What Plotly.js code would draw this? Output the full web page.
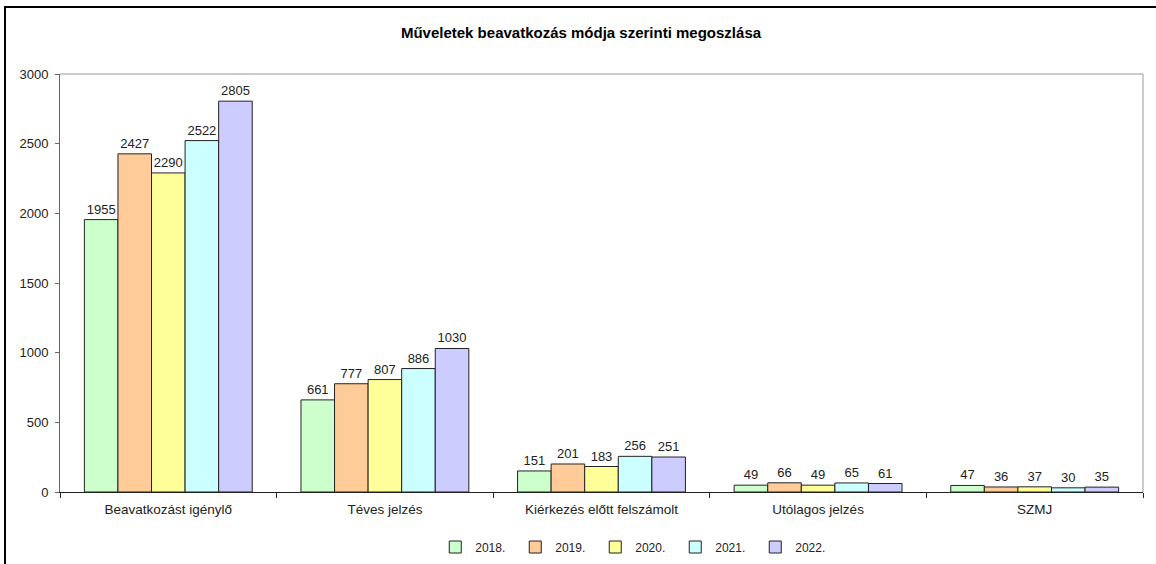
<!DOCTYPE html>
<html>
<head>
<meta charset="utf-8">
<script src="https://cdn.plot.ly/plotly-3.0.1.min.js"></script>
<style>
  html, body { margin: 0; padding: 0; background: #fff; }
  #wrap { position: relative; width: 1156px; height: 564px; overflow: hidden; }
  #frame { position: absolute; left: 4px; top: 6px; width: 1200px; height: 700px;
           border-top: 2px solid #000; border-left: 2px solid #000; pointer-events: none; z-index: 5; }
  #chart { position: absolute; left: 0; top: 0; width: 1156px; height: 564px; }
</style>
</head>
<body>
<div id="wrap">
  <div id="chart"></div>
  <div id="frame"></div>
</div>
<script>
const categories = ["Beavatkozást igénylő", "Téves jelzés", "Kiérkezés előtt felszámolt", "Utólagos jelzés", "SZMJ"];
const years = ["2018.", "2019.", "2020.", "2021.", "2022."];
const v2018 = [1955, 661, 151, 49, 47];
const v2019 = [2427, 777, 201, 66, 36];
const v2020 = [2290, 807, 183, 49, 37];
const v2021 = [2522, 886, 256, 65, 30];
const v2022 = [2805, 1030, 251, 61, 35];
const series = [v2018, v2019, v2020, v2021, v2022];
const colors = ["#CCFFCC", "#FFCC99", "#FFFF99", "#CCFFFF", "#CCCCFF"];
const titleText = "Műveletek beavatkozás módja szerinti megoszlása";

const FONT = "Liberation Sans, Arial, sans-serif";

const traces = series.map((vals, i) => ({
  type: "bar",
  name: years[i],
  x: categories,
  y: vals,
  text: vals.map(String),
  textposition: "outside",
  textfont: { family: FONT, size: 13, color: "#222" },
  cliponaxis: false,
  marker: { color: colors[i], line: { color: "#222", width: 1 } },
  hoverinfo: "x+y+name"
}));

const layout = {
  width: 1156,
  height: 564,
  paper_bgcolor: "#ffffff",
  plot_bgcolor: "#ffffff",
  margin: { l: 60, r: 13, t: 74, b: 72, autoexpand: false },
  barmode: "group",
  bargap: 0.225,
  bargroupgap: 0,
  font: { family: FONT, size: 12, color: "#000" },
  title: {
    text: titleText,
    font: { family: FONT, size: 15, color: "#000", weight: "bold" },
    x: 0.5026, xref: "container", xanchor: "center",
    y: 0.9415, yref: "container", yanchor: "middle"
  },
  xaxis: {
    type: "category",
    showline: true, linecolor: "#222", linewidth: 1,
    ticks: "outside", tickson: "boundaries", ticklen: 5, tickcolor: "#222",
    ticklabelstandoff: 5,
    tickfont: { family: FONT, size: 13.5, color: "#222" },
    showgrid: false, zeroline: false, fixedrange: true
  },
  yaxis: {
    range: [0, 3000], dtick: 500, tick0: 0,
    showline: true, linecolor: "#666", linewidth: 1,
    ticks: "outside", ticklen: 4, tickcolor: "#666",
    ticklabelstandoff: 4,
    tickfont: { family: FONT, size: 13, color: "#222" },
    showgrid: false, zeroline: false, fixedrange: true
  },
  shapes: [
    { type: "line", xref: "paper", yref: "paper", x0: 0, x1: 1, y0: 1, y1: 1, line: { color: "#999", width: 1 } },
    { type: "line", xref: "paper", yref: "paper", x0: 1, x1: 1, y0: 0, y1: 1, line: { color: "#999", width: 1 } }
  ],
  showlegend: true,
  legend: {
    orientation: "h",
    x: 0.3465, xanchor: "left",
    y: -0.1316, yanchor: "middle",
    font: { family: FONT, size: 12, color: "#222" },
    itemwidth: 30,
    entrywidth: 35, entrywidthmode: "pixels",
    traceorder: "normal",
    bgcolor: "rgba(0,0,0,0)"
  }
};

Plotly.newPlot("chart", traces, layout, { displayModeBar: false, staticPlot: true });
</script>
</body>
</html>
